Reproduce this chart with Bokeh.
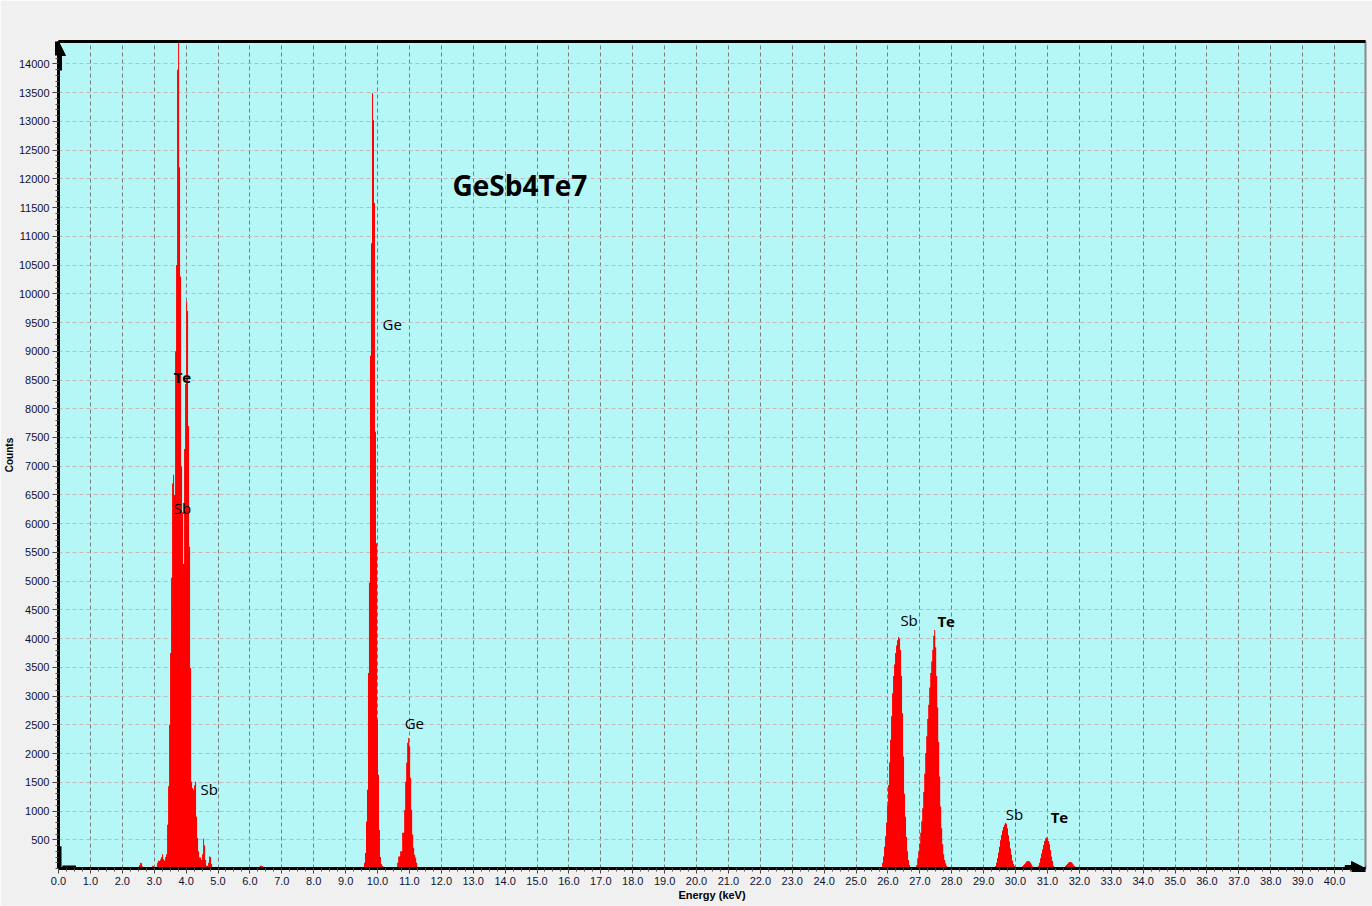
from bokeh.plotting import figure
from bokeh.models import (ColumnDataSource, FixedTicker, LinearAxis, Range1d,
                          Arrow, NormalHead, PrintfTickFormatter, Label)
from bokeh.embed import file_html
from bokeh.resources import INLINE

# ---------------- data ----------------
CHANNEL_KEV = 0.03135  # width of one spectrum channel

# L-line cluster (Sb / Te), start energy of first channel and counts
l_cluster_start = 2.51
l_cluster_counts = [0, 60, 100, 90, 40, 0, 0, 0, 0, 0, 0, 0, 0, 0, 50, 40, 0, 0,
                    30, 100, 140, 130, 160, 200, 250, 160, 140, 200, 250, 760,
                    1430, 2500, 3750, 5060, 6700, 6850, 6500, 9000, 10500, 13900,
                    15000, 12200, 10300, 7000, 6200, 5300, 7300, 8430, 9870, 9700,
                    7700, 5600, 3490, 1510, 1400, 1370, 1450, 1510, 900, 530, 300,
                    190, 190, 150, 250, 520, 400, 150, 50, 50, 100, 210, 200, 80, 0]

small_bump_start = 6.27
small_bump_counts = [0, 30, 50, 50, 40, 30, 0]

ge_ka_start = 9.56
ge_ka_counts = [0, 100, 270, 815, 1370, 3400, 4970, 8920, 10880, 13490, 13020,
                11580, 7600, 5660, 2590, 1630, 670, 200, 80, 50, 30, 0]

ge_kb_start = 10.60
ge_kb_counts = [0, 100, 210, 210, 300, 300, 620, 620, 1020, 1510, 1840, 2190,
                2270, 2120, 1580, 1020, 590, 360, 240, 185, 100, 30, 0]

sb_ka_start = 25.80
sb_ka_counts = [0, 100, 210, 380, 560, 800, 1100, 1450, 1850, 2240, 2650, 3050,
                3350, 3550, 3750, 3880, 3970, 4030, 4000, 3800, 3350, 2700, 1950,
                1300, 900, 550, 300, 150, 60, 0]

te_ka_start = 26.87
te_ka_counts = [0, 60, 180, 300, 430, 620, 820, 1050, 1330, 1650, 2010, 2300,
                2600, 2850, 3150, 3400, 3600, 3800, 4050, 4150, 3850, 3350, 2800,
                2200, 1600, 1080, 700, 420, 250, 150, 90, 50, 0]

sb_kb_start = 29.34
sb_kb_counts = [0, 40, 100, 180, 280, 380, 490, 580, 660, 720, 760, 790, 780,
                700, 580, 470, 350, 240, 140, 80, 50, 20, 0]

bump_30_start = 30.16
bump_30_counts = [0, 20, 40, 60, 80, 100, 120, 130, 130, 120, 100, 70, 40, 20, 0]

te_kb_start = 30.69
te_kb_counts = [0, 50, 100, 180, 260, 330, 410, 480, 520, 540, 530, 480, 420,
                320, 210, 130, 50, 20, 0]

bump_31_start = 31.50
bump_31_counts = [0, 20, 40, 60, 80, 100, 115, 115, 110, 90, 70, 50, 30, 15, 0]

# peak labels
label_texts = ["Te", "Sb", "Sb", "Ge", "Ge", "Sb", "Te", "Sb", "Te"]
label_energy = [3.61, 3.61, 4.45, 10.16, 10.85, 26.39, 27.55, 29.69, 31.10]
label_counts = [8550, 6270, 1390, 9475, 2530, 4330, 4310, 950, 900]
label_bold = [True, False, False, False, False, False, True, False, True]

chart_title = "GeSb4Te7"
title_energy = 12.35
title_counts = 11895

x_ticks = [float(v) for v in range(0, 41)]
y_ticks = list(range(500, 14001, 500))
X_MAX = 40.97
Y_MAX = 14390

# ---------------- build spectrum arrays ----------------
segments = [
    (l_cluster_start, l_cluster_counts), (small_bump_start, small_bump_counts),
    (ge_ka_start, ge_ka_counts), (ge_kb_start, ge_kb_counts),
    (sb_ka_start, sb_ka_counts), (te_ka_start, te_ka_counts),
    (sb_kb_start, sb_kb_counts), (bump_30_start, bump_30_counts),
    (te_kb_start, te_kb_counts), (bump_31_start, bump_31_counts),
]
energy, counts = [], []
for start, cts in segments:
    for i, c in enumerate(cts):
        energy.append(start + i * CHANNEL_KEV)
        counts.append(c)
src = ColumnDataSource(dict(x=energy, y=counts))

# ---------------- figure ----------------
BG = "#f0f0f0"
p = figure(width=1372, height=906, output_backend="svg", toolbar_location=None,
           x_range=Range1d(0, X_MAX), y_range=Range1d(0, Y_MAX),
           min_border_left=58, min_border_top=41, min_border_right=7,
           min_border_bottom=38)
p.background_fill_color = "#b5f6f6"
p.border_fill_color = BG
p.outline_line_color = "#8a8a8a"
p.outline_line_width = 2

p.varea_step(x="x", y1=0, y2="y", step_mode="center", source=src,
             fill_color="#ff0000")

# axes
xa = p.xaxis[0]
xa.ticker = FixedTicker(ticks=x_ticks,
                        minor_ticks=[i * 0.25 for i in range(0, 164)])
xa.formatter = PrintfTickFormatter(format="%.1f")
ya = p.yaxis[0]
ya.ticker = FixedTicker(ticks=y_ticks, minor_ticks=list(range(0, 14401, 100)))
for ax in (xa, ya):
    ax.axis_line_color = "black"
    ax.axis_line_width = 3
    ax.major_tick_line_color = "#404040"
    ax.minor_tick_line_color = "#505050"
    ax.major_tick_in = 0
    ax.minor_tick_in = 0
    ax.major_tick_out = 6
    ax.minor_tick_out = 3
    ax.major_label_text_font = "Liberation Sans"
    ax.major_label_text_font_size = "11px"
    ax.major_label_text_color = "#101030"
    ax.major_label_standoff = 3
    ax.axis_label_text_font = "Liberation Sans"
    ax.axis_label_text_font_style = "bold"
    ax.axis_label_text_color = "black"
    ax.axis_label_standoff = 1
xa.axis_label = "Energy (keV)"
xa.axis_label_text_font_size = "11px"
xa.major_tick_out = 5
ya.axis_label = "Counts"
ya.axis_label_text_font_size = "10px"

top = LinearAxis(ticker=FixedTicker(ticks=[]), axis_line_color="black",
                 axis_line_width=3, major_tick_line_color=None,
                 minor_tick_line_color=None, major_label_text_font_size="0px")
p.add_layout(top, "above")

# grids
p.xgrid.ticker = FixedTicker(ticks=x_ticks)
p.xgrid.grid_line_color = "#7a7a7a"
p.xgrid.grid_line_dash = "4 3"
p.xgrid.grid_line_width = 1
p.ygrid.ticker = FixedTicker(ticks=y_ticks)
p.ygrid.grid_line_color = "#c8b6b6"
p.ygrid.grid_line_dash = "4 3"
p.ygrid.grid_line_width = 1

# axis arrows
p.add_layout(Arrow(end=NormalHead(size=14, fill_color="black", line_color="black"),
                   x_start=0, y_start=Y_MAX * 0.965, x_end=0, y_end=Y_MAX,
                   line_width=7, line_color="black"))
p.add_layout(Arrow(end=NormalHead(size=14, fill_color="black", line_color="black"),
                   x_start=X_MAX - 0.65, y_start=0, x_end=X_MAX, y_end=0,
                   line_width=7, line_color="black"))
p.add_layout(Arrow(end=None, x_start=0, y_start=0, x_end=0, y_end=Y_MAX * 0.027,
                   line_width=6, line_color="black"))
p.add_layout(Arrow(end=None, x_start=0.12, y_start=0, x_end=0.55, y_end=0,
                   line_width=6, line_color="black"))

# title
p.add_layout(Label(x=title_energy, y=title_counts, text=chart_title,
                   text_font="Open Sans", text_font_style="bold",
                   text_font_size="28px", text_color="black",
                   text_align="left", text_baseline="middle"))

# peak labels
for t, e, c, b in zip(label_texts, label_energy, label_counts, label_bold):
    p.add_layout(Label(x=e, y=c, text=t, text_font="Open Sans",
                       text_font_style="bold" if b else "normal",
                       text_font_size="15px", text_color="black",
                       text_align="left", text_baseline="middle"))

html = file_html(p, INLINE)
html = html.replace("<body>", '<body style="background:#f0f0f0">', 1)
open("out.html", "w").write(html)
